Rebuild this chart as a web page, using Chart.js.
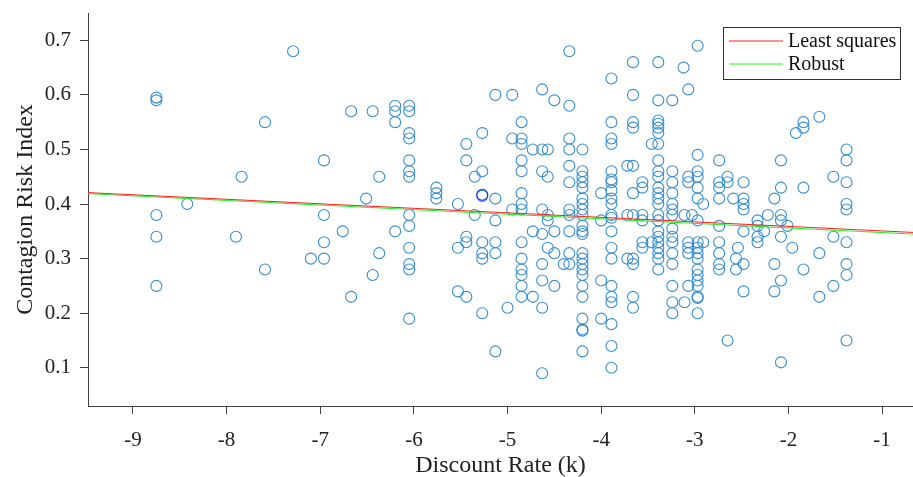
<!DOCTYPE html>
<html>
<head>
<meta charset="utf-8">
<script src="https://cdn.jsdelivr.net/npm/chart.js@4.4.1/dist/chart.umd.min.js"></script>
<style>
  body { margin: 0; background: #fff; }
  #wrap { width: 913px; height: 477px; }
</style>
</head>
<body>
<div id="wrap"><canvas id="scatterChart"></canvas></div>
<script>
// tick labels
const xTicks = [-9, -8, -7, -6, -5, -4, -3, -2, -1];
const yTicks = [0.1, 0.2, 0.3, 0.4, 0.5, 0.6, 0.7];

// discount rate columns and the risk index values
const rateCols = [-8.75, -8.42, -7.9, -7.84, -7.59, -7.29, -7.1, -6.96, -6.76, -6.67,
  -6.51, -6.44, -6.37, -6.2, -6.05, -5.76, -5.53, -5.44, -5.35, -5.27,
  -5.13, -5.0, -4.95, -4.85, -4.73, -4.63, -4.57, -4.5, -4.4, -4.34,
  -4.2, -4.0, -3.89, -3.72, -3.66, -3.56, -3.46, -3.39, -3.24, -3.12,
  -3.11, -3.07, -3.03, -2.97, -2.91, -2.74, -2.65, -2.59, -2.56, -2.54,
  -2.48, -2.33, -2.26, -2.22, -2.15, -2.08, -2.01, -1.96, -1.92, -1.84,
  -1.67, -1.52, -1.38];

const riskCols = [
  [0.595, 0.59, 0.38, 0.34, 0.25],
  [0.40],
  [0.34],
  [0.45],
  [0.55, 0.28],
  [0.68],
  [0.30],
  [0.48, 0.38, 0.33, 0.30],
  [0.35],
  [0.57, 0.23],
  [0.41],
  [0.57, 0.27],
  [0.45, 0.31],
  [0.58, 0.57, 0.55, 0.35],
  [0.58, 0.57, 0.53, 0.52, 0.48, 0.46, 0.45, 0.38, 0.36, 0.32, 0.29, 0.28, 0.19],
  [0.43, 0.42, 0.41],
  [0.40, 0.32, 0.24],
  [0.51, 0.48, 0.34, 0.33, 0.23],
  [0.45, 0.38],
  [0.53, 0.46, 0.415, 0.33, 0.31, 0.30, 0.20],
  [0.60, 0.41, 0.37, 0.33, 0.31, 0.13],
  [0.21],
  [0.60, 0.52, 0.39],
  [0.55, 0.52, 0.51, 0.48, 0.46, 0.42, 0.40, 0.39, 0.33, 0.30, 0.28, 0.27, 0.25, 0.23],
  [0.50, 0.35, 0.23],
  [0.61, 0.50, 0.46, 0.39, 0.345, 0.29, 0.26, 0.21, 0.09],
  [0.50, 0.45, 0.38, 0.37, 0.32],
  [0.59, 0.35, 0.31, 0.25],
  [0.29],
  [0.68, 0.58, 0.52, 0.50, 0.47, 0.44, 0.39, 0.38, 0.35, 0.31, 0.29],
  [0.50, 0.46, 0.45, 0.44, 0.43, 0.41, 0.40, 0.39, 0.38, 0.36, 0.35, 0.345, 0.31, 0.30, 0.29, 0.28, 0.27, 0.25, 0.23, 0.19, 0.17, 0.168, 0.13],
  [0.42, 0.37, 0.26, 0.19],
  [0.63, 0.55, 0.52, 0.51, 0.46, 0.445, 0.44, 0.425, 0.41, 0.40, 0.38, 0.375, 0.35, 0.32, 0.30, 0.25, 0.23, 0.22, 0.18, 0.14, 0.10],
  [0.47, 0.38, 0.30],
  [0.66, 0.60, 0.55, 0.54, 0.47, 0.42, 0.38, 0.30, 0.29, 0.23, 0.21],
  [0.44, 0.43, 0.38, 0.37, 0.33, 0.32],
  [0.51, 0.33],
  [0.66, 0.59, 0.553, 0.547, 0.54, 0.53, 0.51, 0.48, 0.46, 0.45, 0.43, 0.42, 0.41, 0.40, 0.38, 0.37, 0.35, 0.34, 0.33, 0.32, 0.31, 0.30, 0.28],
  [0.59, 0.46, 0.44, 0.42, 0.40, 0.39, 0.38, 0.355, 0.34, 0.33, 0.31, 0.29, 0.25, 0.22, 0.20],
  [0.65],
  [0.38, 0.22],
  [0.61, 0.45, 0.44, 0.33, 0.32, 0.31, 0.25],
  [0.38],
  [0.69, 0.49, 0.46, 0.45, 0.43, 0.41, 0.37, 0.33, 0.32, 0.31, 0.30, 0.28, 0.27, 0.26, 0.25, 0.23, 0.228, 0.20],
  [0.40, 0.33],
  [0.48, 0.44, 0.43, 0.41, 0.36, 0.33, 0.31, 0.29, 0.28],
  [0.45, 0.44, 0.15],
  [0.41],
  [0.30, 0.28],
  [0.32],
  [0.44, 0.41, 0.40, 0.39, 0.35, 0.29, 0.24],
  [0.37, 0.36, 0.34, 0.33],
  [0.35],
  [0.38],
  [0.41, 0.29, 0.24],
  [0.48, 0.43, 0.38, 0.37, 0.34, 0.26, 0.11],
  [0.36],
  [0.32],
  [0.53],
  [0.55, 0.54, 0.43, 0.28],
  [0.56, 0.31, 0.23],
  [0.45, 0.34, 0.25],
  [0.50, 0.48, 0.44, 0.40, 0.39, 0.33, 0.29, 0.27, 0.15]
];

// the one point drawn in a darker blue
const highlightPoint = [{ x: -5.27, y: 0.417 }];

// fitted lines (end points at the axis limits)
const xLimits = [-9.48, -0.67];
const leastSquaresY = [0.421, 0.348];
const robustY = [0.419, 0.345];

const scatterPoints = [];
rateCols.forEach((r, i) => {
  riskCols[i].forEach(v => scatterPoints.push({ x: r, y: v }));
});

const serif = "'Liberation Serif', 'Times New Roman', serif";
const axisColor = '#404040';

// legend box drawn inside the plot, top right
const boxLegend = {
  id: 'boxLegend',
  afterDraw(chart) {
    const ctx = chart.ctx;
    const x = 723, y = 27, w = 177, h = 52;
    ctx.save();
    ctx.fillStyle = '#fff';
    ctx.fillRect(x, y, w, h);
    ctx.strokeStyle = '#333';
    ctx.lineWidth = 1;
    ctx.strokeRect(x + 0.5, y + 0.5, w, h);
    const items = [chart.data.datasets[0], chart.data.datasets[1]];
    ctx.font = '20px ' + serif;
    ctx.textBaseline = 'middle';
    items.forEach((ds, i) => {
      const ly = y + 14 + i * 23;
      ctx.strokeStyle = ds.borderColor;
      ctx.beginPath();
      ctx.moveTo(x + 6, ly);
      ctx.lineTo(x + 60, ly);
      ctx.stroke();
      ctx.fillStyle = '#111';
      ctx.fillText(ds.label, x + 65, ly + 1);
    });
    ctx.restore();
  }
};

// keep the plot box where the reference has it
function noScalePadding(axis) {
  axis.paddingLeft = 0;
  axis.paddingRight = 0;
  axis.paddingTop = 0;
  axis.paddingBottom = 0;
}

const ctx = document.getElementById('scatterChart').getContext('2d');
new Chart(ctx, {
  type: 'scatter',
  data: {
    datasets: [
      {
        label: 'Least squares',
        data: xLimits.map((x, i) => ({ x: x, y: leastSquaresY[i] })),
        showLine: true,
        borderColor: '#ff2020',
        borderWidth: 1,
        pointRadius: 0
      },
      {
        label: 'Robust',
        data: xLimits.map((x, i) => ({ x: x, y: robustY[i] })),
        showLine: true,
        borderColor: '#22ee22',
        borderWidth: 1,
        pointRadius: 0
      },
      {
        label: 'highlight',
        data: highlightPoint,
        pointStyle: 'circle',
        pointRadius: 5.5,
        borderColor: '#2222ee',
        backgroundColor: 'rgba(0,0,0,0)',
        borderWidth: 1.1
      },
      {
        label: 'data',
        data: scatterPoints,
        pointStyle: 'circle',
        pointRadius: 5.5,
        borderColor: '#358dd2',
        backgroundColor: 'rgba(0,0,0,0)',
        borderWidth: 1.1
      }
    ]
  },
  options: {
    responsive: true,
    maintainAspectRatio: false,
    animation: false,
    layout: { autoPadding: false, padding: { top: 13, right: 0, bottom: 0, left: 0 } },
    plugins: {
      legend: { display: false },
      tooltip: { enabled: false }
    },
    scales: {
      x: {
        type: 'linear',
        min: xLimits[0],
        max: xLimits[1],
        afterBuildTicks: axis => { axis.ticks = xTicks.map(v => ({ value: v })); },
        afterFit: axis => { axis.height = 71; noScalePadding(axis); },
        grid: { drawOnChartArea: false, drawTicks: true, tickLength: 8, color: axisColor },
        border: { display: true, color: axisColor, width: 1 },
        ticks: { color: '#222', font: { family: serif, size: 21 }, padding: 14 },
        title: {
          display: true,
          text: 'Discount Rate (k)',
          color: '#222',
          font: { family: serif, size: 24 },
          padding: { top: 0, bottom: -3 }
        }
      },
      y: {
        type: 'linear',
        min: 0.03,
        max: 0.75,
        afterBuildTicks: axis => { axis.ticks = yTicks.map(v => ({ value: v })); },
        afterFit: axis => { axis.width = 88; noScalePadding(axis); },
        grid: { drawOnChartArea: false, drawTicks: true, tickLength: 8, color: axisColor },
        border: { display: true, color: axisColor, width: 1 },
        ticks: {
          color: '#222',
          font: { family: serif, size: 21 },
          padding: 9,
          callback: v => v.toFixed(1)
        },
        title: {
          display: true,
          text: 'Contagion Risk Index',
          color: '#222',
          font: { family: serif, size: 24 },
          padding: { top: 11, bottom: 0 }
        }
      }
    }
  },
  plugins: [boxLegend]
});
</script>
</body>
</html>
